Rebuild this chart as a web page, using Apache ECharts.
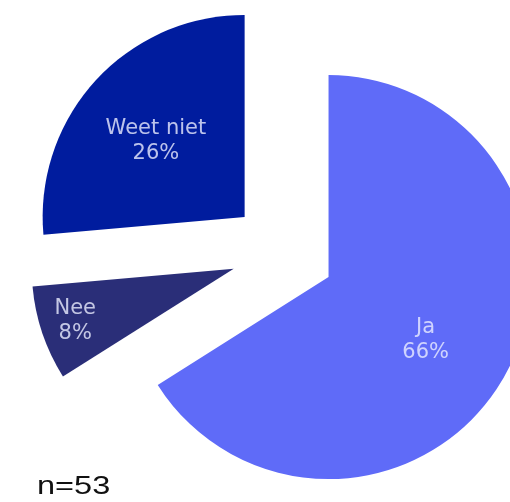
<!DOCTYPE html>
<html>
<head>
<meta charset="utf-8">
<script src="https://cdn.jsdelivr.net/npm/echarts@6/dist/echarts.min.js"></script>
<style>
  html, body { margin: 0; padding: 0; background: #ffffff; }
  #chart { width: 510px; height: 502px; }
</style>
</head>
<body>
<div id="chart"></div>
<script>
// Answers and respondent counts (n = 53); slice labels show the rounded share
const categories = ['Ja', 'Nee', 'Weet niet'];
const counts = [35, 4, 14];
const sliceColors = ['#5f6bf8', '#2a2e78', '#001c9e'];
const sampleNote = 'n=53';

// Per-slice nudges of the inner labels
const labelShift = [[6, 13], [-60, 19], [-12, -6]];

const chart = echarts.init(document.getElementById('chart'), null, { renderer: 'canvas' });

chart.setOption({
  animation: false,
  backgroundColor: '#ffffff',
  graphic: [{
    type: 'text',
    left: 37,
    top: 475,
    scaleX: 1.3,
    style: {
      text: sampleNote,
      fill: '#111111',
      font: '25px "Liberation Sans", Arial, sans-serif'
    }
  }],
  series: [{
    type: 'pie',
    center: [283, 252],
    radius: [0, 202],
    startAngle: 90,
    clockwise: true,
    percentPrecision: 0,
    selectedMode: 'multiple',
    selectedOffset: 52,
    silent: true,
    emphasis: { disabled: true },
    label: {
      show: true,
      position: 'inner',
      formatter: '{b}\n{d}%',
      color: 'rgba(235,238,255,0.8)',
      fontFamily: '"DejaVu Sans", sans-serif',
      fontSize: 21,
      lineHeight: 25,
      align: 'center'
    },
    labelLine: { show: false },
    labelLayout: function (p) {
      const s = labelShift[p.dataIndex];
      return { dx: s[0], dy: s[1] };
    },
    data: categories.map(function (name, i) {
      return {
        name: name,
        value: counts[i],
        selected: true,
        itemStyle: { color: sliceColors[i] }
      };
    })
  }]
});
</script>
</body>
</html>
